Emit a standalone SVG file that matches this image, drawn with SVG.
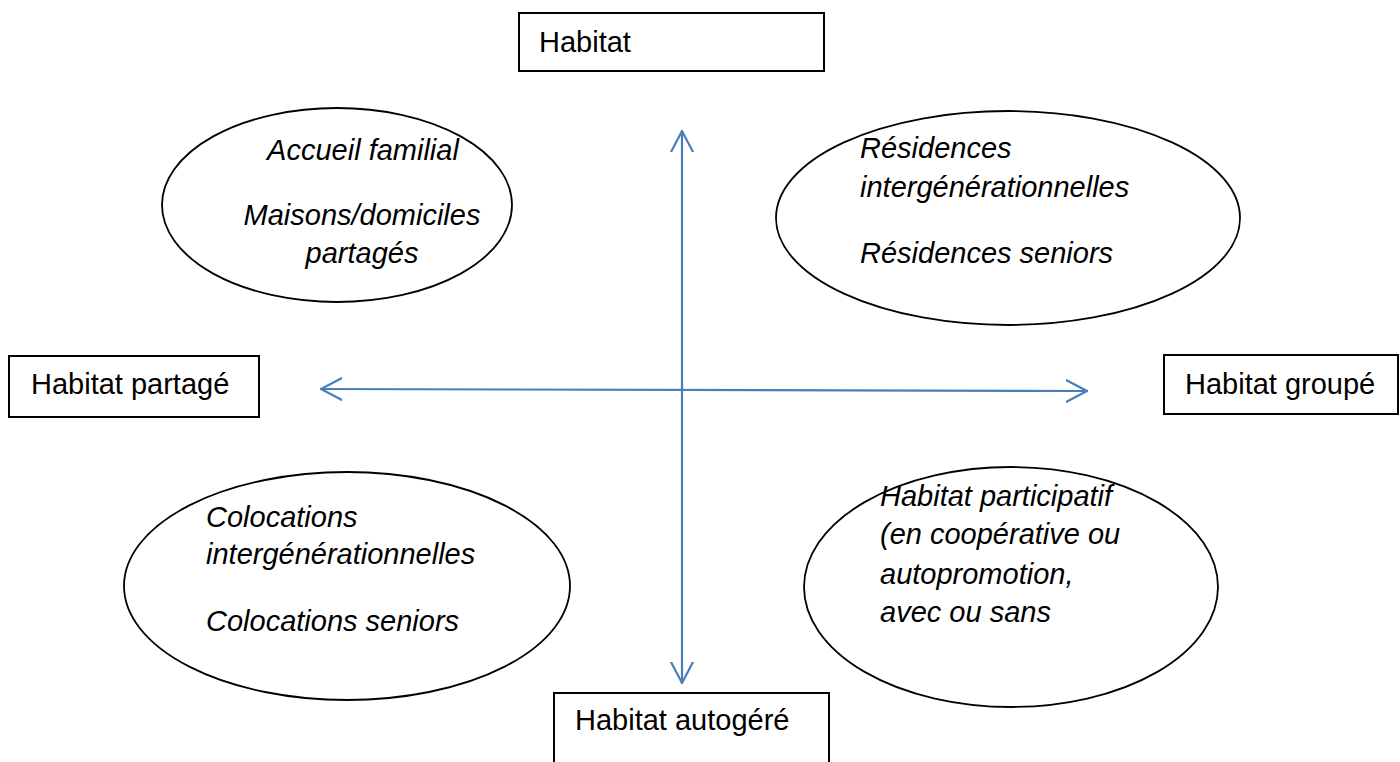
<svg xmlns="http://www.w3.org/2000/svg" width="1400" height="762" viewBox="0 0 1400 762">
<defs>
<style>
.box{fill:#fff;stroke:#000;stroke-width:2}
.ell{fill:#fff;stroke:#000;stroke-width:1.8}
.t{font-family:"Liberation Sans",Arial,sans-serif;font-size:29px;fill:#000}
.i{font-style:italic}
.ax{stroke:#4a7ebb;stroke-width:2.2;fill:none;stroke-linecap:round;stroke-linejoin:round}
</style>
<marker id="ah" viewBox="0 0 24 24" refX="21" refY="12" markerWidth="24" markerHeight="24" markerUnits="userSpaceOnUse" orient="auto-start-reverse">
<path d="M0,1 L21,12 L0,23" fill="none" stroke="#4a7ebb" stroke-width="2.2" stroke-linecap="round" stroke-linejoin="round"/>
</marker>
</defs>
<rect width="1400" height="762" fill="#fff"/>
<g id="connectors">
<line class="ax" x1="682" y1="131" x2="682" y2="683" marker-start="url(#ah)" marker-end="url(#ah)"/>
<line class="ax" x1="321" y1="389" x2="1087" y2="391" marker-start="url(#ah)" marker-end="url(#ah)"/>
</g>
<g id="n-habitat">
<rect class="box" x="519" y="13" width="305" height="58"/>
<text class="t" x="539" y="52">Habitat</text>
</g>
<g id="n-partage">
<rect class="box" x="9" y="356" width="250" height="61"/>
<text class="t" x="31" y="394">Habitat partagé</text>
</g>
<g id="n-groupe">
<rect class="box" x="1164" y="355" width="234" height="59"/>
<text class="t" x="1185" y="394">Habitat groupé</text>
</g>
<g id="n-autogere">
<rect class="box" x="554" y="693" width="275" height="80"/>
<text class="t" x="575" y="730">Habitat autogéré</text>
</g>
<g id="e-tl">
<ellipse class="ell" cx="337" cy="205" rx="175" ry="97"/>
<text class="t i" x="363" y="160" text-anchor="middle">Accueil familial</text>
<text class="t i" x="362" y="225" text-anchor="middle">Maisons/domiciles</text>
<text class="t i" x="362" y="263" text-anchor="middle">partagés</text>
</g>
<g id="e-tr">
<ellipse class="ell" cx="1008" cy="218" rx="232" ry="107"/>
<text class="t i" x="860" y="158">Résidences</text>
<text class="t i" x="860" y="197">intergénérationnelles</text>
<text class="t i" x="860" y="263">Résidences seniors</text>
</g>
<g id="e-bl">
<ellipse class="ell" cx="347" cy="586" rx="223" ry="114"/>
<text class="t i" x="206" y="527">Colocations</text>
<text class="t i" x="206" y="564">intergénérationnelles</text>
<text class="t i" x="206" y="631">Colocations seniors</text>
</g>
<g id="e-br">
<ellipse class="ell" cx="1011" cy="587" rx="207" ry="120"/>
<text class="t i" x="880" y="506">Habitat participatif</text>
<text class="t i" x="880" y="544">(en coopérative ou</text>
<text class="t i" x="880" y="584">autopromotion,</text>
<text class="t i" x="880" y="622">avec ou sans</text>
</g>
</svg>
